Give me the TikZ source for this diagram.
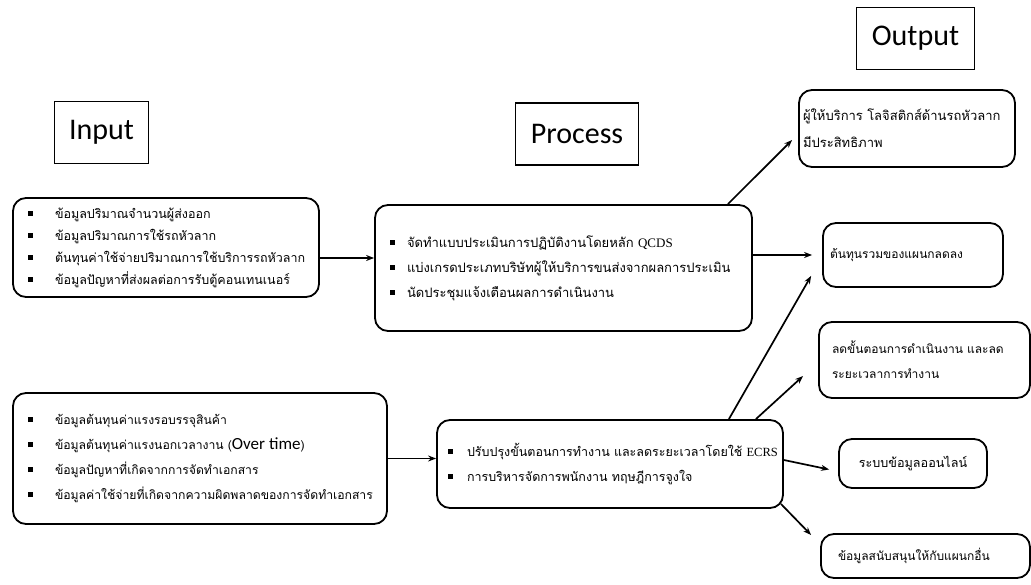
\documentclass[tikz,border=0pt]{standalone}
\usepackage{fontspec}
\newfontfamily\thaifont[Script=Thai]{Loma}
\newfontfamily\lblfont{Carlito}
\newfontfamily\latfont{Liberation Serif}
\usetikzlibrary{arrows.meta}
% bullet item: square, then gap, then text
\newcommand{\itm}[2][22pt]{\mbox{\rule[2.5pt]{5pt}{5pt}\hspace{#1}#2}}

\begin{document}
\begin{tikzpicture}[x=1pt, y=-1pt, >={Stealth[length=8pt,width=6pt]},
  every node/.style={font=\thaifont\fontsize{12}{22}\selectfont},
  head/.style={draw, line width=1.1pt, font=\lblfont\fontsize{30}{30}\selectfont,
    minimum height=62pt, inner xsep=15pt, inner ysep=0pt},
  rbox/.style={draw, line width=1.8pt, rounded corners=13pt, align=left, inner ysep=0pt},
  link/.style={->, line width=1.7pt}]
  \useasboundingbox (0,0) rectangle (1031,585);
  % titles
  \node[head] (tin)  at (101.5,132.5) {Input};
  \node[head] (tpr)  at (577,134)     {Process};
  \node[head] (tout) at (915.5,38.5)  {Output};
  % input boxes
  \node[rbox, inner xsep=15pt, text width=276pt, minimum height=99pt,
    font=\thaifont\fontsize{12.5}{22}\selectfont] (in1) at (166,247.5)
    {\itm{ข้อมูลปริมาณจำนวนผู้ส่งออก}\\
     \itm{ข้อมูลปริมาณการใช้รถหัวลาก}\\
     \itm{ต้นทุนค่าใช้จ่ายปริมาณการใช้บริการรถหัวลาก}\\
     \itm{ข้อมูลปัญหาที่ส่งผลต่อการรับตู้คอนเทนเนอร์}};
  \node[rbox, inner xsep=15pt, text width=344pt, minimum height=131pt,
    font=\thaifont\fontsize{12.2}{25}\selectfont] (in2) at (200,458.5)
    {\itm{ข้อมูลต้นทุนค่าแรงรอบรรจุสินค้า}\\
     \itm{ข้อมูลต้นทุนค่าแรงนอกเวลางาน ({\lblfont\fontsize{17}{17}\selectfont Over time})}\\
     \itm{ข้อมูลปัญหาที่เกิดจากการจัดทำเอกสาร}\\
     \itm{ข้อมูลค่าใช้จ่ายที่เกิดจากความผิดพลาดของการจัดทำเอกสาร}};
  % process boxes
  \node[rbox, inner xsep=15pt, text width=347pt, minimum height=126pt,
    font=\thaifont\fontsize{13}{25}\selectfont] (pr1) at (563.5,268)
    {\itm[12pt]{จัดทำแบบประเมินการปฏิบัติงานโดยหลัก {\latfont QCDS}}\\
     \itm[12pt]{แบ่งเกรดประเภทบริษัทผู้ให้บริการขนส่งจากผลการประเมิน}\\
     \itm[12pt]{นัดประชุมแจ้งเตือนผลการดำเนินงาน}};
  \node[rbox, inner xsep=11pt, text width=324pt, minimum height=88pt,
    font=\thaifont\fontsize{12.5}{25}\selectfont] (pr2) at (610,464)
    {\itm[14pt]{ปรับปรุงขั้นตอนการทำงาน และลดระยะเวลาโดยใช้ {\latfont ECRS}}\\
     \itm[14pt]{การบริหารจัดการพนักงาน ทฤษฎีการจูงใจ}};
  % output boxes
  \node[rbox, inner xsep=4pt, text width=208pt, minimum height=77pt,
    font=\thaifont\fontsize{13}{27}\selectfont] (o1) at (907,128.5)
    {ผู้ให้บริการ โลจิสติกส์ด้านรถหัวลาก\\มีประสิทธิภาพ};
  \node[rbox, inner xsep=7pt, text width=166pt, minimum height=64pt] (o2) at (913,255)
    {ต้นทุนรวมของแผนกลดลง};
  \node[rbox, inner xsep=13pt, text width=185pt, minimum height=76pt,
    font=\thaifont\fontsize{12}{25}\selectfont] (o3) at (924.5,360)
    {ลดขั้นตอนการดำเนินงาน และลด\\ระยะเวลาการทำงาน};
  \node[rbox, align=center, minimum width=148pt, minimum height=49pt,
    font=\thaifont\fontsize{12.6}{20}\selectfont] (o4) at (913,463.5)
    {ระบบข้อมูลออนไลน์};
  \node[rbox, inner xsep=17pt, text width=175pt, minimum height=44pt] (o5) at (925.5,556)
    {ข้อมูลสนับสนุนให้กับแผนกอื่น};
  % connectors
  \draw[link] ([yshift=-10.5pt]in1.east) -- ([yshift=-10.5pt]in1.east -| pr1.west);
  \draw[link] (in2.east) -- (in2.east -| pr2.west);
  \draw[link] ([xshift=-25pt]pr1.north east) -- ([xshift=-6pt,yshift=-11.5pt]o1.west);
  \draw[link, shorten >=10pt] (pr1.east |- o2.west) -- (o2.west);
  \draw[link] ([xshift=-55pt]pr2.north east) -- ([xshift=-11pt,yshift=12pt]o2.south west);
  \draw[link] ([xshift=-28pt]pr2.north east) -- ([xshift=-15pt,yshift=-16pt]o3.west);
  \draw[link] ([yshift=4pt]pr2.east) -- ([xshift=-9pt,yshift=-6pt]o4.west);
  \draw[link] ([xshift=-3pt,yshift=5pt]pr2.south east) -- ([xshift=-9pt,yshift=21pt]o5.west);
\end{tikzpicture}
\end{document}
